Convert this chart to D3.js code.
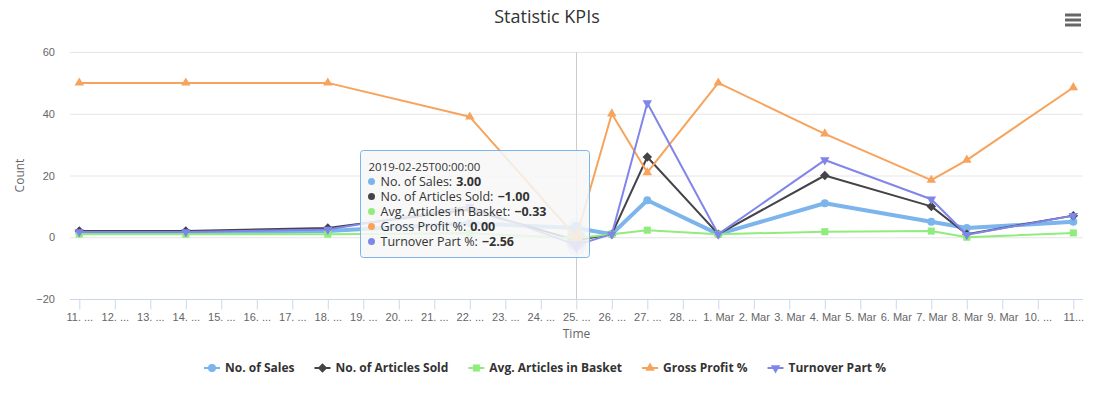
<!DOCTYPE html>
<html>
<head>
<meta charset="utf-8">
<script src="https://cdn.jsdelivr.net/npm/d3@7"></script>
<style>
	body { margin: 0; background: #fff; }
	svg { display: block; font-family: "Open Sans", "Lucida Grande", sans-serif; }
</style>
</head>
<body>
<svg id="chart"></svg>
<script>
	// Data
	const dates = ["2019-02-11", "2019-02-14", "2019-02-18", "2019-02-22", "2019-02-25", "2019-02-26",
		"2019-02-27", "2019-03-01", "2019-03-04", "2019-03-07", "2019-03-08", "2019-03-11"];
	const sales = [1.5, 1.5, 2, 4.5, 3, 1, 12, 1, 11, 5, 3, 5];
	const articlesSold = [2, 2, 3, 9, -1, 1, 26, 1, 20, 10, 1, 7];
	const avgBasket = [1, 1, 1, 1.3, -0.33, 1, 2.3, 1, 1.8, 2, 0, 1.4];
	const grossProfit = [50, 50, 50, 39, 0, 40, 21, 50, 33.5, 18.5, 25, 48.5];
	const turnoverPart = [1.7, 1.7, 2.5, 10, -2.56, 1, 43.5, 1, 25, 12.3, 0.8, 7];

	const seriesNames = ["No. of Sales", "No. of Articles Sold", "Avg. Articles in Basket", "Gross Profit %", "Turnover Part %"];
	const seriesColors = ["#7cb5ec", "#434348", "#90ed7d", "#f7a35c", "#8085e9"];
	const seriesSymbols = ["circle", "diamond", "square", "triangle", "triangle-down"];

	const xTickDays = d3.utcDays(new Date("2019-02-11"), new Date("2019-03-12"));
	const xTickLabels = ["11. ...", "12. ...", "13. ...", "14. ...", "15. ...", "16. ...", "17. ...", "18. ...",
		"19. ...", "20. ...", "21. ...", "22. ...", "23. ...", "24. ...", "25. ...", "26. ...", "27. ...", "28. ...",
		"1. Mar", "2. Mar", "3. Mar", "4. Mar", "5. Mar", "6. Mar", "7. Mar", "8. Mar", "9. Mar", "10. ...", "11..."];
	const yTicks = [-20, 0, 20, 40, 60];
	const hoverDate = "2019-02-25";

	const width = 1098;
	const height = 398;
	const plot = {left: 70, right: 1083, top: 52, bottom: 299};

	const seriesData = [sales, articlesSold, avgBasket, grossProfit, turnoverPart];
	const data = seriesNames.map((name, i) => ({
		name: name,
		color: seriesColors[i],
		symbol: seriesSymbols[i],
		values: dates.map((d, j) => ({date: new Date(d), value: seriesData[i][j]}))
	}));

	// Scales
	const x = d3.scaleUtc()
		.domain([new Date("2019-02-11"), new Date("2019-03-11")])
		.range([79.3, 1073.3]);

	const y = d3.scaleLinear()
		.domain([-20, 60])
		.range([plot.bottom, plot.top]);

	const svg = d3.select("#chart")
		.attr("width", width)
		.attr("height", height);

	// Title
	svg.append("text")
		.attr("x", 547)
		.attr("y", 23)
		.attr("text-anchor", "middle")
		.style("font-size", "18px")
		.style("fill", "#333333")
		.text("Statistic KPIs");

	// Menu icon
	[15, 20, 25].forEach(yy => {
		svg.append("line")
			.attr("x1", 1065).attr("x2", 1081)
			.attr("y1", yy).attr("y2", yy)
			.style("stroke", "#666")
			.style("stroke-width", 3);
	});

	// Grid
	svg.append("g")
		.selectAll("line")
		.data(yTicks.filter(t => t !== -20))
		.enter().append("line")
			.attr("x1", plot.left).attr("x2", plot.right)
			.attr("y1", d => y(d) + 0.5).attr("y2", d => y(d) + 0.5)
			.style("stroke", "#e6e6e6");

	// Y axis labels
	const yAxis = svg.append("g")
		.attr("transform", `translate(${plot.left - 15}, 0)`)
		.call(d3.axisLeft(y).tickValues(yTicks).tickSize(0).tickPadding(0).tickFormat(d3.format("d")));
	yAxis.select(".domain").remove();
	yAxis.selectAll("text")
		.style("font-size", "11px")
		.style("font-family", "inherit")
		.style("fill", "#666666");

	svg.append("text")
		.attr("transform", `translate(24, ${(plot.top + plot.bottom) / 2}) rotate(-90)`)
		.attr("text-anchor", "middle")
		.style("font-size", "12px")
		.style("fill", "#666666")
		.text("Count");

	// X axis
	const xAxis = svg.append("g")
		.attr("transform", `translate(0, ${plot.bottom + 0.5})`)
		.call(d3.axisBottom(x).tickValues(xTickDays).tickSize(10).tickPadding(4)
			.tickFormat((d, i) => xTickLabels[i]));
	xAxis.select(".domain").remove();
	xAxis.append("line")
		.attr("x1", plot.left).attr("x2", plot.right)
		.style("stroke", "#ccd6eb");
	xAxis.selectAll(".tick line").style("stroke", "#ccd6eb");
	xAxis.selectAll("text")
		.style("font-size", "11px")
		.style("font-family", "inherit")
		.style("fill", "#666666");

	svg.append("text")
		.attr("x", (plot.left + plot.right) / 2)
		.attr("y", 338)
		.attr("text-anchor", "middle")
		.style("font-size", "12px")
		.style("fill", "#666666")
		.text("Time");

	// Crosshair
	svg.append("line")
		.attr("x1", Math.round(x(new Date(hoverDate))) + 0.5)
		.attr("x2", Math.round(x(new Date(hoverDate))) + 0.5)
		.attr("y1", plot.top).attr("y2", plot.bottom)
		.style("stroke", "#cccccc");

	// Series
	const symbolType = {
		"circle": d3.symbolCircle,
		"diamond": d3.symbolDiamond2,
		"square": d3.symbolSquare2,
		"triangle": d3.symbolTriangle2,
		"triangle-down": d3.symbolTriangle2
	};

	function marker(sym, r) {
		const size = sym === "circle" ? Math.PI * r * r : (2 * r) * (2 * r);
		return d3.symbol().type(symbolType[sym]).size(sym === "diamond" ? size * 0.9 : size)();
	}

	function markerTransform(sym, px, py) {
		if (sym === "triangle-down") return `translate(${px},${py}) rotate(180)`;
		return `translate(${px},${py})`;
	}

	const line = d3.line()
		.x(d => x(d.date))
		.y(d => y(d.value));

	const seriesG = svg.append("g");

	data.forEach((s, i) => {
		const g = seriesG.append("g");
		g.append("path")
			.attr("d", line(s.values))
			.style("fill", "none")
			.style("stroke", s.color)
			.style("stroke-width", i === 0 ? 4 : 2)
			.style("stroke-linejoin", "round")
			.style("stroke-linecap", "round");
		g.selectAll(".pt")
			.data(s.values)
			.enter().append("path")
				.attr("class", "pt")
				.attr("d", d => marker(s.symbol, +d.date === +new Date(hoverDate) ? 6 : 4))
				.attr("transform", d => markerTransform(s.symbol, x(d.date), y(d.value)))
				.style("fill", s.color);
	});

	// Hover halos
	data.forEach(s => {
		const p = s.values.find(d => +d.date === +new Date(hoverDate));
		seriesG.insert("circle", ":first-child")
			.attr("cx", x(p.date))
			.attr("cy", y(p.value))
			.attr("r", 10)
			.style("fill", s.color)
			.style("opacity", 0.25);
	});

	// Legend
	const legend = svg.append("g");
	let lx = 0;
	data.forEach(s => {
		const item = legend.append("g").attr("transform", `translate(${lx}, 0)`);
		item.append("line")
			.attr("x1", 0).attr("x2", 16)
			.attr("y1", 0).attr("y2", 0)
			.style("stroke", s.color)
			.style("stroke-width", 2);
		item.append("path")
			.attr("d", marker(s.symbol, 4))
			.attr("transform", markerTransform(s.symbol, 8, 0))
			.style("fill", s.color);
		const t = item.append("text")
			.attr("x", 21)
			.attr("y", 4)
			.style("font-size", "12px")
			.style("font-weight", "bold")
			.style("fill", "#333333")
			.text(s.name);
		lx += 21 + t.node().getComputedTextLength() + 20;
	});
	lx -= 20;
	legend.attr("transform", `translate(${545 - lx / 2}, 368)`);

	// Tooltip
	const hx = x(new Date(hoverDate));
	const tip = svg.append("g")
		.attr("transform", `translate(${Math.round(hx) - 215.5}, 150.5)`);
	tip.append("rect")
		.attr("width", 229)
		.attr("height", 107)
		.attr("rx", 3)
		.style("fill", "rgba(247,247,247,0.85)")
		.style("stroke", seriesColors[0]);
	tip.append("text")
		.attr("x", 8)
		.attr("y", 20)
		.style("font-size", "11.5px")
		.style("fill", "#333333")
		.text(d3.utcFormat("%Y-%m-%dT%H:%M:%S")(new Date(hoverDate)));
	data.forEach((s, i) => {
		const p = s.values.find(d => +d.date === +new Date(hoverDate));
		const ty = 35.5 + i * 15;
		tip.append("circle")
			.attr("cx", 11)
			.attr("cy", ty - 4.5)
			.attr("r", 3.5)
			.style("fill", s.color);
		const label = tip.append("text")
			.attr("x", 20)
			.attr("y", ty)
			.style("font-size", "12.5px")
			.style("fill", "#333333")
			.text(s.name + ":");
		tip.append("text")
			.attr("x", 20 + label.node().getComputedTextLength() + 4)
			.attr("y", ty)
			.style("font-size", "12.5px")
			.style("font-weight", "bold")
			.style("fill", "#333333")
			.text(d3.format(".2f")(p.value));
	});
</script>
</body>
</html>
